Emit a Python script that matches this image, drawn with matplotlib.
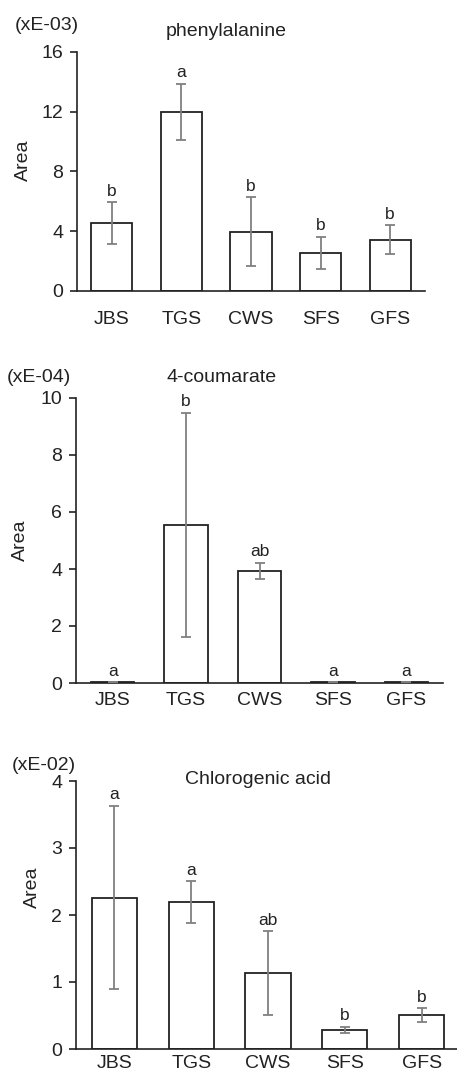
import matplotlib
matplotlib.use("Agg")
import matplotlib.pyplot as plt
import numpy as np

plt.rcParams['font.family'] = ['Liberation Sans', 'DejaVu Sans']

categories = ["JBS", "TGS", "CWS", "SFS", "GFS"]

phe_values = [4.54, 12.0, 3.96, 2.55, 3.44]
phe_errors = [1.40, 1.88, 2.30, 1.08, 0.97]
phe_letters = ["b", "a", "b", "b", "b"]
phe_ticks = [0, 4, 8, 12, 16]

cou_values = [0.03, 5.54, 3.94, 0.03, 0.03]
cou_errors = [0.0, 3.93, 0.28, 0.0, 0.0]
cou_letters = ["a", "b", "ab", "a", "a"]
cou_ticks = [0, 2, 4, 6, 8, 10]

chl_values = [2.26, 2.19, 1.134, 0.289, 0.507]
chl_errors = [1.37, 0.315, 0.62, 0.045, 0.10]
chl_letters = ["a", "a", "ab", "b", "b"]
chl_ticks = [0, 1, 2, 3, 4]

W, H = 457, 1072
fig = plt.figure(figsize=(W / 100, H / 100), dpi=100)


def px_axes(left, right, top, bottom):
    return fig.add_axes([left / W, 1 - bottom / H, (right - left) / W, (bottom - top) / H])


panels = [
    dict(box=(77, 425, 52, 291), vals=phe_values, errs=phe_errors, letters=phe_letters,
         ticks=phe_ticks, title="phenylalanine", tpos=(226, 32), scale="(xE-03)", spos=(47, 25),
         apos=(23, 160), xpad=14.5, xlim=(-0.5, 4.5)),
    dict(box=(76, 443, 398, 683), vals=cou_values, errs=cou_errors, letters=cou_letters,
         ticks=cou_ticks, title="4-coumarate", tpos=(222, 377), scale="(xE-04)", spos=(39, 377),
         apos=(20, 540), xpad=6.5, xlim=(-0.5, 4.5)),
    dict(box=(76, 460, 781, 1049), vals=chl_values, errs=chl_errors, letters=chl_letters,
         ticks=chl_ticks, title="Chlorogenic acid", tpos=(258, 779), scale="(xE-02)", spos=(44, 765),
         apos=(32, 887), xpad=4.5, xlim=(-0.5, 4.5)),
]

dark = "#222222"
gray = "#808080"

for p in panels:
    ax = px_axes(*p["box"])
    x = np.arange(len(categories))
    ax.bar(x, p["vals"], width=0.59, color="white", edgecolor=dark, linewidth=1.3, zorder=2)
    ax.errorbar(x, p["vals"], yerr=p["errs"], fmt="none", ecolor=gray, elinewidth=1.3,
                capsize=3.5, capthick=1.3, zorder=3)
    for xi, v, e, l in zip(x, p["vals"], p["errs"], p["letters"]):
        ax.annotate(l, (xi, v + e), xytext=(0, 8), textcoords="offset points",
                    ha="center", va="center", fontsize=12.5, color=dark)
    ax.set_xlim(*p["xlim"])
    ax.set_ylim(p["ticks"][0], p["ticks"][-1])
    ax.set_yticks(p["ticks"])
    ax.set_xticks(x)
    ax.set_xticklabels(categories)
    for s in ["top", "right"]:
        ax.spines[s].set_visible(False)
    for s in ["left", "bottom"]:
        ax.spines[s].set_color(dark)
        ax.spines[s].set_linewidth(1.2)
        ax.spines[s].set_clip_on(False)
    ax.tick_params(axis="y", direction="out", length=5, width=1.2, color=dark,
                   labelsize=14, pad=5, labelcolor=dark)
    ax.tick_params(axis="x", length=0, labelsize=14, pad=p["xpad"], labelcolor=dark)
    ax.patch.set_visible(False)
    fig.text(p["tpos"][0] / W, 1 - p["tpos"][1] / H, p["title"], ha="center", va="center",
             fontsize=14, color=dark)
    fig.text(p["spos"][0] / W, 1 - p["spos"][1] / H, p["scale"], ha="center", va="center",
             fontsize=14, color=dark)
    fig.text(p["apos"][0] / W, 1 - p["apos"][1] / H, "Area", ha="center", va="center",
             rotation=90, fontsize=14, color=dark)

fig.savefig("out.png", dpi=100)
